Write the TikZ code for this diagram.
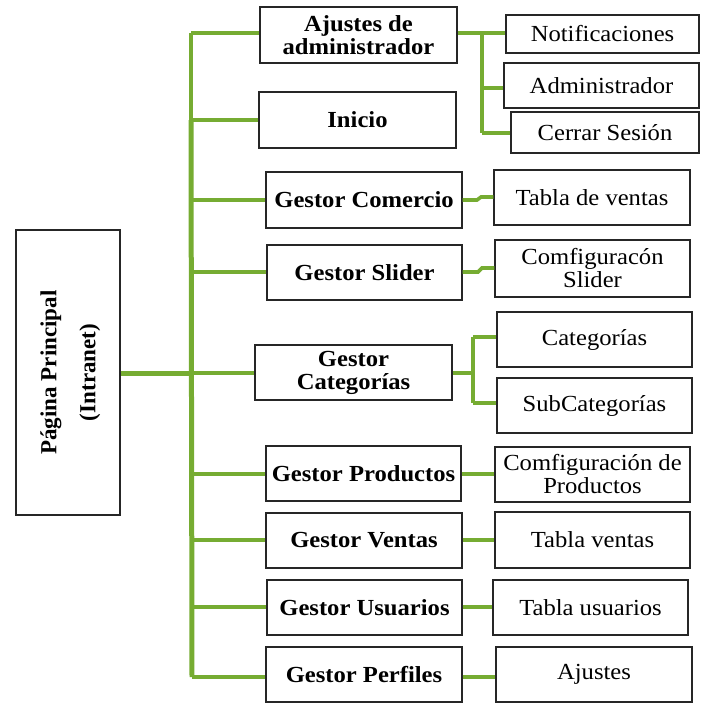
\documentclass[tikz,border=0pt]{standalone}
\usepackage{fontspec}
\setmainfont{Liberation Serif}[FakeStretch=1.07]
\newfontfamily\vfont{Liberation Serif}
\usetikzlibrary{shadows}
\definecolor{lgreen}{RGB}{118,172,50}
\tikzset{
  box/.style={draw=black!85, line width=1.1pt, fill=white, inner sep=0pt, align=center,
    font=\fontsize{23}{23}\selectfont,
    drop shadow={shadow xshift=1.3pt, shadow yshift=-1.3pt, fill=black!50, opacity=.55}},
  lone/.style={box, font=\fontsize{23}{23}\selectfont\bfseries},
  conn/.style={draw=lgreen, line width=3.6pt},
  trunk/.style={draw=lgreen, line width=5pt}
}
\begin{document}
\begin{tikzpicture}[x=1pt,y=-1pt]
\useasboundingbox (0,0) rectangle (701,703);
% main
\node[box, minimum width=104pt, minimum height=285pt] (main) at (68,372.5)
  {\rotatebox{90}{\vfont\fontsize{23}{39}\selectfont\bfseries\begin{tabular}{@{}c@{}}Página Principal\\(Intranet)\end{tabular}}};
% level 1
\node[lone, minimum width=197pt, minimum height=56pt] (aj) at (358.5,35) {Ajustes de\\administrador};
\node[lone, minimum width=197pt, minimum height=56pt] (ini) at (357.5,120) {Inicio};
\node[lone, minimum width=196pt, minimum height=56pt] (com) at (364,200) {Gestor Comercio};
\node[lone, minimum width=195pt, minimum height=55pt] (sli) at (364.5,272.5) {Gestor Slider};
\node[lone, minimum width=197pt, minimum height=55pt] (cat) at (353.5,372.5) {Gestor\\Categorías};
\node[lone, minimum width=195pt, minimum height=55pt] (pro) at (363.5,473.5) {Gestor Productos};
\node[lone, minimum width=196pt, minimum height=55pt] (ven) at (364,540.5) {Gestor Ventas};
\node[lone, minimum width=195pt, minimum height=55pt] (usu) at (364.5,607.5) {Gestor Usuarios};
\node[lone, minimum width=196pt, minimum height=55pt] (per) at (364,674.5) {Gestor Perfiles};
% level 2
\node[box, minimum width=193pt, minimum height=38pt] (not) at (602.5,34) {Notificaciones};
\node[box, minimum width=195pt, minimum height=45pt] (adm) at (601.5,85.5) {Administrador};
\node[box, minimum width=188pt, minimum height=41pt] (cer) at (605,132.5) {Cerrar Sesión};
\node[box, minimum width=196pt, minimum height=55pt] (tdv) at (592,197.5) {Tabla de ventas};
\node[box, minimum width=195pt, minimum height=57pt] (csl) at (592.5,268.5) {Comfiguracón\\Slider};
\node[box, minimum width=195pt, minimum height=55pt] (cats) at (594.5,339.5) {Categorías};
\node[box, minimum width=195pt, minimum height=55pt] (sub) at (594.5,405.5) {SubCategorías};
\node[box, minimum width=195pt, minimum height=55pt] (cpr) at (592.5,474.5) {Comfiguración de\\Productos};
\node[box, minimum width=195pt, minimum height=56pt] (tve) at (592.5,540) {Tabla ventas};
\node[box, minimum width=195pt, minimum height=55pt] (tus) at (590.5,607.5) {Tabla usuarios};
\node[box, minimum width=196pt, minimum height=55pt] (ajs) at (594,674.5) {\raisebox{-3pt}{Ajustes}};
% coordinates
\coordinate (t0) at (191,33);
\coordinate (t1) at (191,120);
\coordinate (t9) at (192,677);
% trunk
\draw[conn] (t0) -- (t1);
\draw[trunk] (t1) -- (t9);
\draw[trunk] (main.east |- 0,373) -- (192,373);
\draw[conn] (t0) -- (t0 -| aj.west);
\draw[conn] (t1) -- (t1 -| ini.west);
\draw[conn] (191,200) -- (com.west |- 0,200);
\draw[conn] (191,272) -- (sli.west |- 0,272);
\draw[conn] (191,373) -- (cat.west |- 0,373);
\draw[conn] (191,474) -- (pro.west |- 0,474);
\draw[conn] (191,540) -- (ven.west |- 0,540);
\draw[conn] (191,607) -- (usu.west |- 0,607);
\draw[conn] (t9) -- (per.west |- 0,677);
% admin subtree
\coordinate (a1) at (482,33);
\coordinate (a2) at (482,133);
\draw[conn] (aj.east |- a1) -- (a1) -- (a2);
\draw[conn] (a1) -- (not.west |- a1);
\draw[conn] (482,88) -- (adm.west |- 0,88);
\draw[conn] (a2) -- (cer.west |- a2);
% comercio
\draw[conn] (com.east |- 0,200) -- (477,200) -- (481,197) -- (tdv.west |- 0,197);
% slider
\draw[conn] (sli.east |- 0,272) -- (478,272) -- (482,268) -- (csl.west |- 0,268);
% categorias
\coordinate (c1) at (473,337);
\coordinate (c2) at (473,403);
\draw[conn] (cat.east |- 0,373) -- (473,373);
\draw[conn] (c1) -- (c2);
\draw[conn] (c1) -- (cats.west |- c1);
\draw[conn] (c2) -- (sub.west |- c2);
\draw[conn] (pro.east |- 0,474) -- (cpr.west |- 0,474);
\draw[conn] (ven.east |- 0,540) -- (tve.west |- 0,540);
\draw[conn] (usu.east |- 0,607) -- (tus.west |- 0,607);
\draw[conn] (per.east |- 0,677) -- (ajs.west |- 0,677);
\end{tikzpicture}
\end{document}
